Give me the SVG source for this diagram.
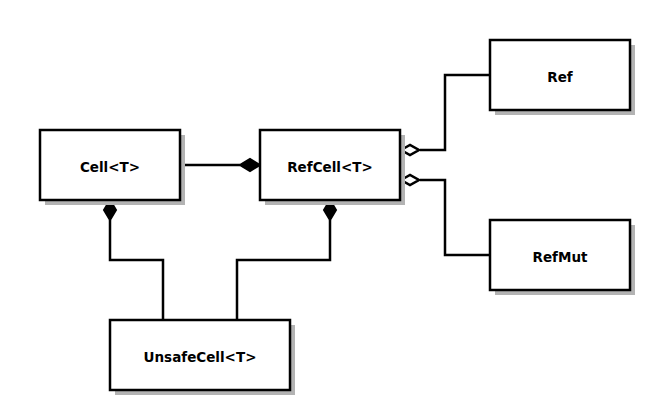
<svg xmlns="http://www.w3.org/2000/svg" width="650" height="410" viewBox="0 0 650 410">
<style>
.box{fill:#fff;stroke:#000;stroke-width:2.5}
.sh{fill:#b3b3b3}
.lbl{font-family:"DejaVu Sans",Verdana,sans-serif;font-weight:bold;font-size:13.5px;text-anchor:middle;fill:#000}
.ln{fill:none;stroke:#000;stroke-width:2.5}
.fd{fill:#000;stroke:#000;stroke-width:2;stroke-linejoin:miter}
.hd{fill:#fff;stroke:#000;stroke-width:2.5;stroke-linejoin:miter}
</style>
<rect width="650" height="410" fill="#fff"/>
<g id="connectors">
<path class="ln" d="M180,165 H240"/>
<path class="fd" d="M260,165 L250,159 L240,165 L250,171 Z"/>
<path class="ln" d="M163,320 V260 H110 V220"/>
<path class="fd" d="M110,200 L104,210 L110,220 L116,210 Z"/>
<path class="ln" d="M237,320 V260 H330 V220"/>
<path class="fd" d="M330,200 L324,210 L330,220 L336,210 Z"/>
<path class="ln" d="M490,75 H445 V150 H420"/>
<path class="hd" d="M401,150 L410,145 L419,150 L410,155 Z"/>
<path class="ln" d="M490,255 H445 V180 H420"/>
<path class="hd" d="M401,180 L410,175 L419,180 L410,185 Z"/>
</g>
<g id="cell">
<rect class="sh" x="45" y="135" width="140" height="70"/>
<rect class="box" x="40" y="130" width="140" height="70"/>
<text class="lbl" x="110" y="172">Cell&lt;T&gt;</text>
</g>
<g id="refcell">
<rect class="sh" x="265" y="135" width="140" height="70"/>
<rect class="box" x="260" y="130" width="140" height="70"/>
<text class="lbl" x="330" y="172">RefCell&lt;T&gt;</text>
</g>
<g id="ref">
<rect class="sh" x="495" y="45" width="140" height="70"/>
<rect class="box" x="490" y="40" width="140" height="70"/>
<text class="lbl" x="560" y="82">Ref</text>
</g>
<g id="refmut">
<rect class="sh" x="495" y="225" width="140" height="70"/>
<rect class="box" x="490" y="220" width="140" height="70"/>
<text class="lbl" x="560" y="262">RefMut</text>
</g>
<g id="unsafecell">
<rect class="sh" x="115" y="325" width="180" height="70"/>
<rect class="box" x="110" y="320" width="180" height="70"/>
<text class="lbl" x="200" y="362">UnsafeCell&lt;T&gt;</text>
</g>
</svg>
